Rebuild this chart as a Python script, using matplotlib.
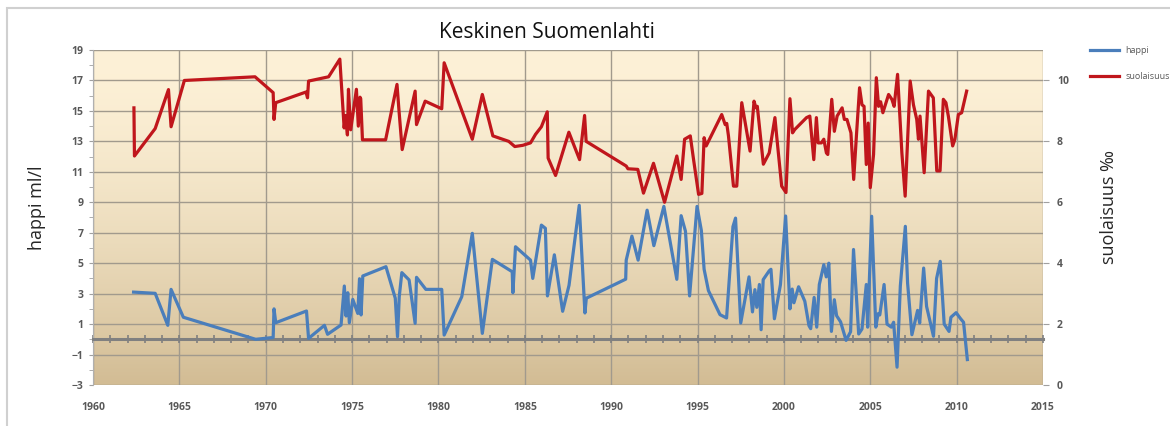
import numpy as np
import matplotlib
matplotlib.use("Agg")
import matplotlib.pyplot as plt
from matplotlib.ticker import MultipleLocator
from matplotlib.patches import Rectangle

plt.rcParams['font.family'] = ['Open Sans', 'DejaVu Sans']

# happi (ml/l), left axis
happi_year = [1962.35, 1963.6, 1964.33, 1964.52, 1965.23, 1969.42, 1970.43, 1970.48, 1970.58,
              1972.36, 1972.48, 1973.4, 1973.58, 1974.36, 1974.55, 1974.65, 1974.75, 1974.84,
              1975.04, 1975.33, 1975.43, 1975.52, 1975.62, 1976.96, 1977.5, 1977.63, 1977.73,
              1977.88, 1978.3, 1978.65, 1978.73, 1979.27, 1980.19, 1980.33, 1981.35, 1981.96,
              1982.54, 1983.12, 1984.27, 1984.31, 1984.46, 1985.33, 1985.46, 1985.96, 1986.19,
              1986.31, 1986.71, 1987.19, 1987.56, 1988.15, 1988.48, 1988.56, 1990.84, 1990.87,
              1991.2, 1991.56, 1992.08, 1992.47, 1993.05, 1993.8, 1994.05, 1994.3, 1994.54,
              1994.97, 1995.22, 1995.38, 1995.63, 1996.3, 1996.68, 1997.05, 1997.2, 1997.5,
              1997.98, 1998.18, 1998.32, 1998.43, 1998.58, 1998.68, 1998.8, 1999.15, 1999.25,
              1999.45, 1999.8, 2000.1, 2000.35, 2000.48, 2000.58, 2000.85, 2001.21, 2001.45,
              2001.55, 2001.75, 2001.9, 2002.05, 2002.31, 2002.45, 2002.6, 2002.75, 2002.92,
              2003.05, 2003.28, 2003.6, 2003.86, 2004.03, 2004.33, 2004.52, 2004.77, 2004.85,
              2005.08, 2005.32, 2005.45, 2005.55, 2005.8, 2005.97, 2006.22, 2006.35, 2006.55,
              2006.74, 2007.03, 2007.16, 2007.41, 2007.74, 2007.86, 2008.09, 2008.26, 2008.66,
              2008.84, 2009.05, 2009.28, 2009.56, 2009.67, 2009.97, 2010.23, 2010.4, 2010.62]
happi = [3.1, 3.02, 0.92, 3.28, 1.45, 0.0, 0.12, 2.0, 1.09,
         1.86, 0.06, 0.92, 0.33, 0.94, 3.5, 1.53, 3.06, 1.09,
         2.62, 1.7, 3.98, 1.6, 4.16, 4.77, 2.7, 0.17, 2.8,
         4.38, 3.9, 1.05, 4.07, 3.28, 3.28, 0.28, 2.8, 6.96,
         0.39, 5.25, 4.44, 3.06, 6.08, 5.2, 4.0, 7.5, 7.29,
         2.85, 5.55, 1.84, 3.55, 8.8, 1.73, 2.7, 3.95, 5.2,
         6.78, 5.2, 8.48, 6.15, 8.73, 3.94, 8.12, 7.1, 2.85,
         8.73, 7.15, 4.6, 3.2, 1.62, 1.4, 7.4, 7.96, 1.07,
         4.1, 1.8, 3.26, 2.1, 3.6, 0.63, 3.92, 4.5, 4.6,
         1.35, 3.6, 8.1, 2.0, 3.3, 2.4, 3.45, 2.5, 0.9,
         0.7, 2.75, 0.8, 3.6, 4.9, 4.1, 5.0, 0.52, 2.6,
         1.55, 1.15, -0.07, 0.5, 5.9, 0.35, 0.68, 3.6, 0.8,
         8.08, 0.8, 1.68, 1.6, 3.6, 1.0, 0.8, 1.12, -1.83,
         3.5, 7.42, 3.7, 0.3, 1.9, 1.07, 4.68, 2.16, 0.2,
         4.0, 5.12, 1.0, 0.52, 1.45, 1.75, 1.35, 1.12, -1.33]

# suolaisuus (promille), right axis
suola_year = [1962.37, 1962.4, 1963.6, 1964.37, 1964.52, 1965.29, 1969.38, 1970.43, 1970.48,
              1970.58, 1972.33, 1972.42, 1972.48, 1973.64, 1974.29, 1974.54, 1974.62, 1974.73,
              1974.79, 1974.92, 1975.25, 1975.36, 1975.46, 1975.5, 1975.6, 1976.94, 1977.6,
              1977.71, 1977.9, 1978.65, 1978.73, 1979.23, 1980.19, 1980.33, 1981.96, 1982.54,
              1983.15, 1984.07, 1984.42, 1984.88, 1985.33, 1985.62, 1985.96, 1986.3, 1986.35,
              1986.78, 1987.55, 1988.17, 1988.46, 1988.55, 1990.87, 1990.97, 1991.54, 1991.87,
              1992.45, 1993.09, 1993.8, 1994.05, 1994.25, 1994.58, 1994.77, 1995.06, 1995.25,
              1995.38, 1995.5, 1996.4, 1996.6, 1996.69, 1996.79, 1997.08, 1997.27, 1997.56,
              1998.04, 1998.27, 1998.38, 1998.46, 1998.81, 1999.15, 1999.48, 1999.58, 1999.87,
              2000.12, 2000.35, 2000.5, 2000.63, 2001.31, 2001.5, 2001.73, 2001.88, 2001.98,
              2002.17, 2002.31, 2002.46, 2002.54, 2002.77, 2002.92, 2003.08, 2003.37, 2003.5,
              2003.65, 2003.88, 2004.04, 2004.2, 2004.38, 2004.52, 2004.64, 2004.77, 2004.88,
              2005.0, 2005.19, 2005.35, 2005.48, 2005.6, 2005.73, 2006.06, 2006.25, 2006.38,
              2006.58, 2006.83, 2007.02, 2007.31, 2007.5, 2007.69, 2007.79, 2007.88, 2007.98,
              2008.12, 2008.37, 2008.65, 2008.85, 2009.04, 2009.23, 2009.38, 2009.52, 2009.77,
              2009.9, 2010.1, 2010.29, 2010.58]
suola = [9.1, 7.52, 8.42, 9.7, 8.48, 10.0, 10.12, 9.6, 8.72,
         9.27, 9.62, 9.43, 9.98, 10.12, 10.7, 8.44, 8.85, 8.21,
         9.71, 8.38, 9.71, 8.5, 9.45, 9.4, 8.05, 8.05, 9.87,
         9.05, 7.73, 9.65, 8.55, 9.32, 9.07, 10.58, 8.07, 9.54,
         8.18, 8.0, 7.83, 7.87, 7.95, 8.23, 8.48, 8.97, 7.45,
         6.88, 8.3, 7.4, 8.85, 8.0, 7.19, 7.1, 7.08, 6.3,
         7.28, 6.0, 7.52, 6.75, 8.07, 8.18, 7.4, 6.26, 6.29,
         8.12, 7.85, 8.88, 8.55, 8.59, 8.18, 6.53, 6.53, 9.27,
         7.68, 9.32, 9.1, 9.15, 7.25, 7.62, 8.78, 8.18, 6.53,
         6.32, 9.4, 8.28, 8.39, 8.78, 8.83, 7.4, 8.78, 7.95,
         7.95, 8.07, 7.62, 7.57, 9.38, 8.33, 8.83, 9.1, 8.72,
         8.72, 8.28, 6.75, 8.2, 9.76, 9.2, 9.15, 7.24, 8.6,
         6.48, 7.57, 10.09, 9.15, 9.3, 8.94, 9.54, 9.38, 9.15,
         10.2, 7.62, 6.2, 9.98, 9.2, 8.72, 8.07, 8.83, 8.07,
         6.97, 9.65, 9.43, 7.03, 7.03, 9.38, 9.27, 8.83, 7.85,
         8.07, 8.88, 8.94, 9.65]

year_labels = list(range(1960, 2016, 5))

fig = plt.figure(figsize=(11.7, 4.26), dpi=100)
ax = fig.add_axes([93/1170, 41/426, 950/1170, 335/426])

# parchment style gradient background
t = np.linspace(0, 1, 256) ** 1.6
top = np.array([253, 241, 215]) / 255
bot = np.array([210, 188, 148]) / 255
grad = (top[None, :] * (1 - t[:, None]) + bot[None, :] * t[:, None])[:, None, :]
ax.imshow(grad, extent=[1960, 2015, -3, 19], aspect='auto', zorder=0, origin='upper')

ax.set_xlim(1960, 2015)
ax.set_ylim(-3, 19)

ax.xaxis.set_major_locator(MultipleLocator(5))
ax.xaxis.set_minor_locator(MultipleLocator(1))
ax.yaxis.set_major_locator(MultipleLocator(2, offset=1))
ax.yaxis.set_minor_locator(MultipleLocator(1))
ax.grid(which='major', color='#a19a8d', lw=1.0)
ax.set_axisbelow(True)

for s in ['top', 'right']:
    ax.spines[s].set_visible(False)
ax.spines['left'].set_color('#b0b0b0')
ax.spines['bottom'].set_position(('data', 0))
ax.spines['bottom'].set_color('#808080')
ax.spines['bottom'].set_linewidth(2.2)
ax.tick_params(axis='x', which='both', direction='inout', length=6, width=1.2,
               color='#808080', labelbottom=False)
ax.tick_params(axis='y', which='both', length=3, color='#a0a0a0', labelsize=7.5,
               labelcolor='#595959', pad=4)
for lab in ax.get_yticklabels():
    lab.set_fontweight('bold')

sec = ax.secondary_xaxis('bottom')
sec.set_xticks(year_labels)
sec.spines['bottom'].set_visible(False)
sec.tick_params(length=0, pad=12, labelsize=7.5, labelcolor='#595959')
for lab in sec.get_xticklabels():
    lab.set_fontweight('bold')

ln1, = ax.plot(happi_year, happi, color='#4a7ebb', lw=2.3, zorder=3, label='happi')

ax2 = ax.twinx()
ax2.set_ylim(0, 11)
ax2.set_yticks([0, 2, 4, 6, 8, 10])
for s in ['top', 'right', 'left', 'bottom']:
    ax2.spines[s].set_visible(False)
ax2.tick_params(axis='y', length=4, color='#a0a0a0', labelsize=7.5,
                labelcolor='#595959', pad=6)
for lab in ax2.get_yticklabels():
    lab.set_fontweight('bold')
ln2, = ax2.plot(suola_year, suola, color='#c0161c', lw=2.3, label='suolaisuus')

ax.set_ylabel('happi ml/l', fontsize=13, color='#262626')
ax.yaxis.set_label_coords(-0.05, 0.53)
ax2.set_ylabel('suolaisuus ‰', fontsize=13, color='#262626', rotation=90)
ax2.yaxis.set_label_coords(1.06, 0.53)

fig.text(547/1170, 1 - 33/426, 'Keskinen Suomenlahti', fontsize=15, ha='center',
         va='center', color='#111111')

fig.legend([ln1, ln2], ['happi', 'suolaisuus'], loc='upper left',
           bbox_to_anchor=(1082/1170, 1 - 38/426), frameon=False, fontsize=6.5,
           handlelength=3.2, labelspacing=1.9, handletextpad=0.7, labelcolor='#595959')

fig.patches.append(Rectangle((7/1170, -0.1), 1.2, 1 - 8/426 + 0.1, transform=fig.transFigure,
                             fill=False, edgecolor='#d0d0d0', lw=1.5))

fig.savefig('out.png', dpi=100)
